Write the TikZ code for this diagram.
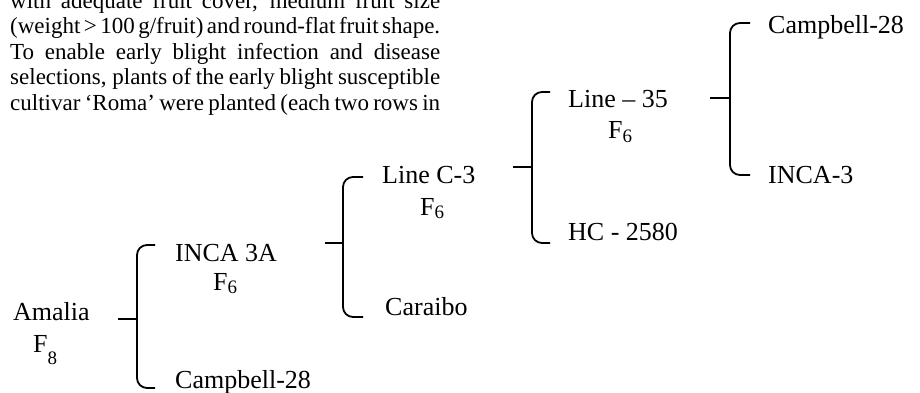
\documentclass[tikz,border=0pt]{standalone}
\usepackage{fontspec}
\setmainfont{Liberation Serif}
\newcommand{\gen}[2][3pt]{F\raisebox{-#1}{\fontsize{19}{19}\selectfont #2}}
\newcommand{\jline}[1]{\hbox to 430pt{\spaceskip=1pt plus 1fil\relax #1}}
\tikzset{
  lbl/.style={font=\fontsize{26}{30}\selectfont, inner sep=0pt, anchor=base west},
  body/.style={font=\fontsize{23}{25}\selectfont, inner sep=0pt, anchor=base west},
  br/.style={line width=1.8pt, rounded corners=10pt},
  stub/.style={line width=1.8pt}
}
\begin{document}
\begin{tikzpicture}[x=1pt,y=-1pt]
\useasboundingbox (0,0) rectangle (920,392);
\clip (0,0) rectangle (920,392);
% body text
\node[body] (t1) at (10,8) {\jline{with adequate fruit cover, medium fruit size}};
\node[body] (t2) at (10,33.6) {\jline{(weight > 100 g/fruit) and round-flat fruit shape.}};
\node[body] (t3) at (10,59.2) {\jline{To enable early blight infection and disease}};
\node[body] (t4) at (10,84.8) {\jline{selections, plants of the early blight susceptible}};
\node[body] (t5) at (10,110.4) {\jline{cultivar ‘Roma’ were planted (each two rows in}};
% labels
\node[lbl] (amalia) at (13,320) {Amalia};
\node[lbl] (f8) at (33,352) {\gen[12pt]{8}};
\node[lbl] (inca3a) at (175,261) {INCA 3A};
\node[lbl] (f6a) at (213,290) {\gen{6}};
\node[lbl] (camp1) at (175,388) {Campbell-28};
\node[lbl] (linec3) at (382,183) {Line C-3};
\node[lbl] (f6b) at (420,215) {\gen{6}};
\node[lbl] (caraibo) at (385,315) {Caraibo};
\node[lbl] (line35) at (568,107) {Line – 35};
\node[lbl] (f6c) at (608,138) {\gen[4pt]{6}};
\node[lbl] (hc) at (568,240) {HC - 2580};
\node[lbl] (camp2) at (768,33) {Campbell-28};
\node[lbl] (inca3) at (768,183) {INCA-3};
% bracket coordinates
\coordinate (s1) at (118,319); \coordinate (j1) at (137,319);
\coordinate (a1) at (155,245); \coordinate (b1) at (155,388);
\coordinate (s2) at (325,243); \coordinate (j2) at (343,243);
\coordinate (a2) at (363,177); \coordinate (b2) at (363,317);
\coordinate (s3) at (513,167); \coordinate (j3) at (532,167);
\coordinate (a3) at (550,92);  \coordinate (b3) at (550,243);
\coordinate (s4) at (710,98);  \coordinate (j4) at (730,98);
\coordinate (a4) at (750,23);  \coordinate (b4) at (750,175);
\foreach \i in {1,2,3,4}{
  \draw[stub] (s\i) -- (j\i);
  \draw[br] (a\i) -| (j\i) |- (b\i);
}
\end{tikzpicture}
\end{document}
